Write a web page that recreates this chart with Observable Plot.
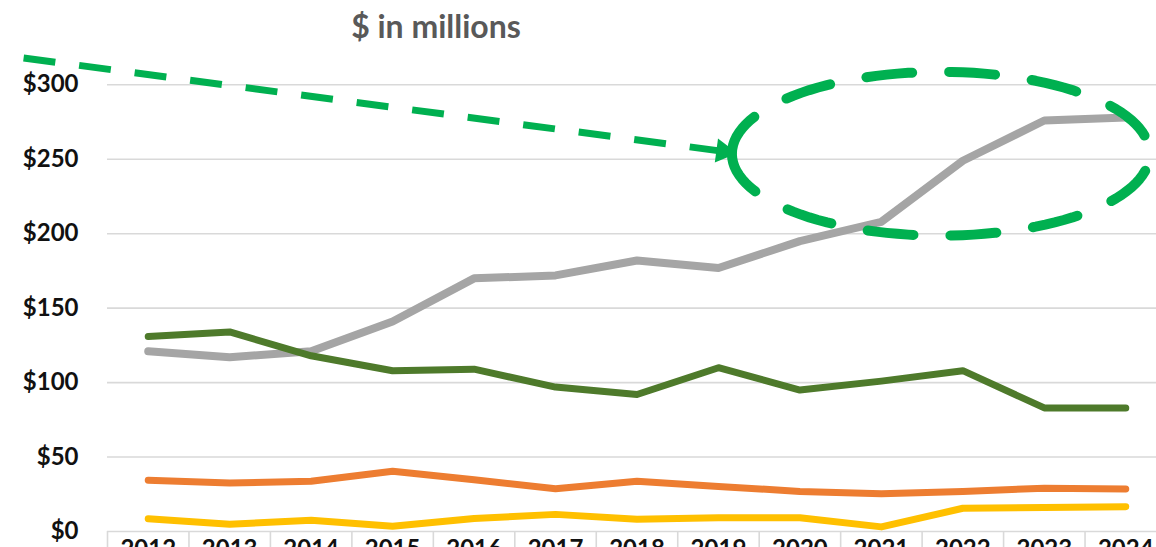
<!DOCTYPE html>
<html><head><meta charset="utf-8">
<script src="https://cdn.jsdelivr.net/npm/d3@7"></script>
<script src="https://cdn.jsdelivr.net/npm/@observablehq/plot@0.6"></script>
<style>
html,body{margin:0;padding:0;background:#fff;overflow:hidden;}
#wrap{position:relative;width:1156px;height:547px;overflow:hidden;}
#title{position:absolute;left:0;top:10px;width:872px;text-align:center;font-family:Lato,"Open Sans",sans-serif;font-weight:bold;font-size:32px;line-height:1;color:#595959;z-index:2;}
#chart{position:absolute;left:0;top:0;}
</style></head><body>
<div id="wrap"><div id="title">$ in millions</div><div id="chart"></div></div>
<script>
// ---- data ($ in millions) ----
const years = [2012,2013,2014,2015,2016,2017,2018,2019,2020,2021,2022,2023,2024];
const grayValues   = [121,117,121,141,170,172,182,177,195,208,249,276,278];
const greenValues  = [131,134,118,108,109,97,92,110,95,101,108,83,83];
const orangeValues = [34.5,32.5,33.7,40.5,34.8,28.7,33.7,30.3,26.9,25.3,26.9,29.1,28.5];
const yellowValues = [8.5,4.8,7.6,3.5,8.7,11.5,8.3,9.2,9.2,3.1,15.6,16.2,16.7];
const yTicks = [0,50,100,150,200,250,300];

// annotation (data coordinates)
const arrowStart = {year: 2010.47, value: 318};
const arrowLinkEnd = {year: 2018.99, value: 255.8};
const arrowHead = {year: 2019.06, value: 255.2};
const ellipseCenter = {year: 2021.73, value: 253.7};
const ellipseRadius = {year: 2.565, value: 55};

const series = [
  {name: "gray",   color: "#A5A5A5", values: grayValues,   width: 8},
  {name: "green",  color: "#4E7A2B", values: greenValues,  width: 7},
  {name: "orange", color: "#ED7D31", values: orangeValues, width: 7},
  {name: "yellow", color: "#FFC000", values: yellowValues, width: 7}
];
const rows = series.flatMap(s => years.map((y, i) => ({series: s.name, year: y, value: s.values[i]})));
const cellEdges = years.map(y => y - 0.5).concat([years[years.length - 1] + 0.5]);
const ellipsePts = d3.range(0, 121).map(i => {
  const t = Math.PI + i / 120 * 2 * Math.PI;
  return {year: ellipseCenter.year + ellipseRadius.year * Math.cos(t), value: ellipseCenter.value + ellipseRadius.value * Math.sin(t)};
});

const lineMarks = series.map(s => Plot.line(rows.filter(r => r.series === s.name), {
  x: "year", y: "value", stroke: s.color, strokeWidth: s.width,
  strokeLinecap: "round", strokeLinejoin: "round"
}));

const chart = Plot.plot({
  width: 1156, height: 547,
  marginLeft: 107, marginRight: -10, marginTop: 84.3, marginBottom: 16,
  style: {fontFamily: "Lato, 'Open Sans', sans-serif", background: "transparent", overflow: "hidden"},
  x: {type: "linear", domain: [2011.5, 2024.5], axis: null},
  y: {domain: [0, 300], axis: null},
  marks: [
    Plot.ruleY(yTicks, {stroke: "#d9d9d9", strokeWidth: 1.6}),
    Plot.ruleX(cellEdges, {y1: 0, y2: -15, stroke: "#d9d9d9", strokeWidth: 1.6}),
    Plot.axisY(yTicks, {anchor: "left", tickSize: 0, tickPadding: 29, tickFormat: d => "$" + d,
      fontSize: 24, fontWeight: "bold", fill: "#111", label: null}),
    Plot.axisX(years, {anchor: "bottom", tickSize: 0, tickPadding: 8, tickFormat: d => String(d),
      fontSize: 24, fontWeight: "bold", fill: "#111", label: null}),
    Plot.line(rows, {x: "year", y: "value", z: "series", stroke: "#000", strokeOpacity: 0.28,
      strokeWidth: 8, dx: 2, dy: 3, strokeLinecap: "round", strokeLinejoin: "round", ariaLabel: "shadow"}),
    ...lineMarks,
    Plot.link([0], {x1: () => arrowStart.year, y1: () => arrowStart.value, x2: () => arrowLinkEnd.year, y2: () => arrowLinkEnd.value,
      stroke: "#00B050", strokeWidth: 7, strokeDasharray: "32,24"}),
    Plot.dot([arrowHead], {x: "year", y: "value", symbol: "triangle", r: 9, fill: "#00B050", stroke: null, rotate: 97.6}),
    Plot.line(ellipsePts, {x: "year", y: "value", stroke: "#00B050", strokeWidth: 10, strokeDasharray: "46,37"})
  ]
});

const svg = d3.select(chart);
const defs = svg.insert("defs", ":first-child");
defs.append("filter").attr("id", "blurShadow").attr("x", "-5%").attr("y", "-20%").attr("width", "110%").attr("height", "140%")
  .append("feGaussianBlur").attr("stdDeviation", 2.2);
svg.selectAll('g[aria-label="shadow"]').attr("filter", "url(#blurShadow)");
document.getElementById("chart").appendChild(chart);
</script>
</body></html>
